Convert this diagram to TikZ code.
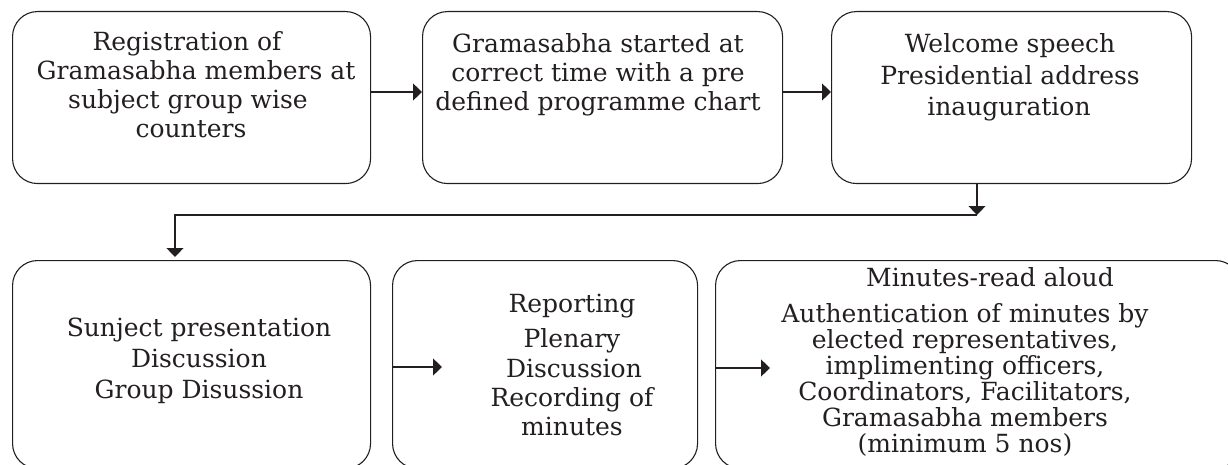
\documentclass[tikz,border=0pt]{standalone}
\usepackage{fontspec}
\setmainfont{DejaVu Serif}
\usetikzlibrary{arrows.meta}
\definecolor{ink}{HTML}{231F20}
\begin{document}
\begin{tikzpicture}[x=1pt,y=-1pt,
  box/.style={draw=ink, line width=1.1pt, rounded corners=25pt, inner sep=0pt, anchor=north west},
  ln/.style={anchor=base, inner sep=0pt, font=\fontsize{25}{29}\selectfont, text=ink},
  conn/.style={draw=ink, line width=1.1pt},
  tip/.style={-{Triangle[length=9pt,width=17pt]}}]
\useasboundingbox (0,0) rectangle (1228,465);
\clip (0,0) rectangle (1228,465);
% boxes
\node[box, minimum width=358pt, minimum height=172pt] (b1) at (12,11) {};
\node[box, minimum width=360pt, minimum height=172pt] (b2) at (422,11) {};
\node[box, minimum width=360pt, minimum height=172pt] (b3) at (831,11) {};
\node[box, minimum width=358pt, minimum height=208pt] (b4) at (12,260) {};
\node[box, minimum width=305pt, minimum height=208pt] (b5) at (392,260) {};
\node[box, minimum width=525pt, minimum height=208pt] (b6) at (715,260) {};
% texts box 1
\node[ln] (t1a) at (187,51) {Registration of};
\node[ln] (t1b) at (196,80) {Gramasabha members at};
\node[ln] (t1c) at (188,109) {subject group wise};
\node[ln] (t1d) at (191,138) {counters};
% box 2
\node[ln] (t2a) at (598,53) {Gramasabha started at};
\node[ln] (t2b) at (598,82) {correct time with a pre};
\node[ln] (t2c) at (598,111) {defined programme chart};
% box 3
\node[ln] (t3a) at (1010,53) {Welcome speech};
\node[ln] (t3b) at (1010,85) {Presidential address};
\node[ln] (t3c) at (1009,116) {inauguration};
% box 4
\node[ln] (t4a) at (199,336) {Sunject presentation};
\node[ln] (t4b) at (199,367) {Discussion};
\node[ln] (t4c) at (199,398) {Group Disussion};
% box 5
\node[ln] (t5a) at (572,312) {Reporting};
\node[ln] (t5b) at (572,347) {Plenary};
\node[ln] (t5c) at (574,377) {Discussion};
\node[ln] (t5d) at (572,406) {Recording of};
\node[ln] (t5e) at (572,435) {minutes};
% box 6
\node[ln] (t6a) at (990,286) {Minutes-read aloud};
\node[ln] (t6b) at (965,322) {Authentication of minutes by};
\node[ln] (t6c) at (965,348) {elected representatives,};
\node[ln] (t6d) at (965,374) {implimenting officers,};
\node[ln] (t6e) at (965,400) {Coordinators, Facilitators,};
\node[ln] (t6f) at (965,426) {Gramasabha members};
\node[ln] (t6g) at (965,452) {(minimum 5 nos)};
% connector helpers
\coordinate (r1) at (0,92);
\coordinate (jx) at (977,215);
\coordinate (dx) at (175,0);
\coordinate (e5) at (442,367);
\coordinate (e6) at (770,368);
% connectors
\draw[conn,tip] (b1.east |- r1) -- (b2.west |- r1);
\draw[conn,tip] (b2.east |- r1) -- (b3.west |- r1);
\draw[conn,tip] (b3.south -| jx) -- (jx);
\draw[conn,tip,shorten >=3pt] (jx) -| (b4.north -| dx);
\draw[conn,tip] (b5.west |- e5) -- (e5);
\draw[conn,tip] (b6.west |- e6) -- (e6);
\end{tikzpicture}
\end{document}
